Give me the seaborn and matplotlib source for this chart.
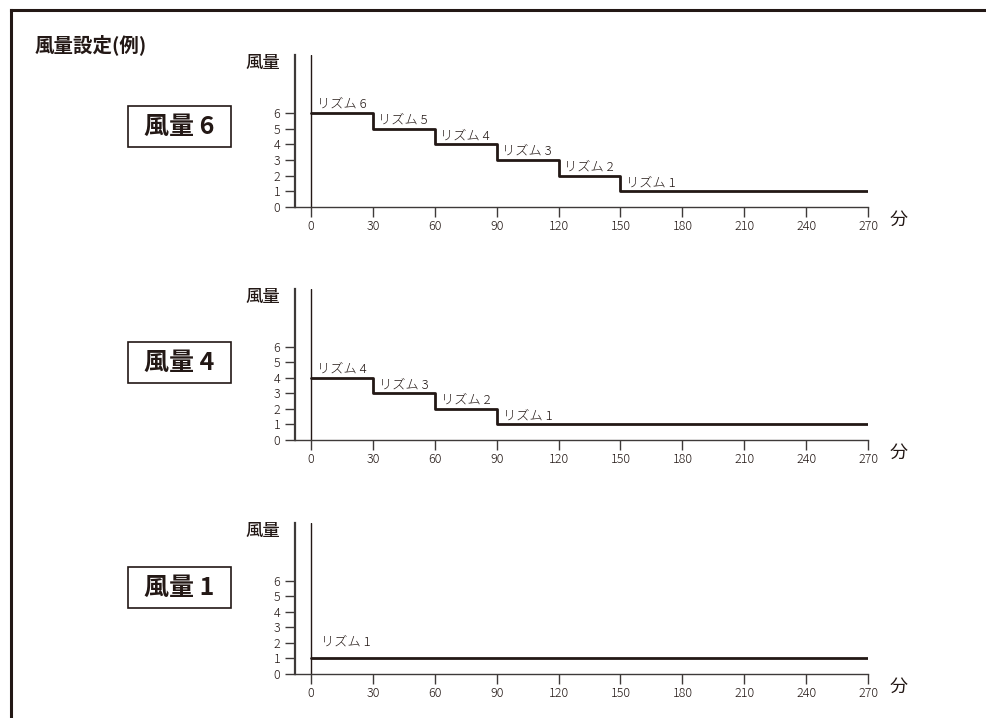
import matplotlib
matplotlib.use("Agg")
import matplotlib.pyplot as plt
import seaborn as sns
import pandas as pd
from matplotlib.patches import Rectangle
from matplotlib.lines import Line2D

# ---- data ----
title_text = "風量設定(例)"
panel_titles = ["風量 6", "風量 4", "風量 1"]
times_p1 = [0, 30, 60, 90, 120, 150, 270]
levels_p1 = [6, 5, 4, 3, 2, 1, 1]
labels_p1 = ["リズム 6", "リズム 5", "リズム 4", "リズム 3", "リズム 2", "リズム 1"]
times_p2 = [0, 30, 60, 90, 270]
levels_p2 = [4, 3, 2, 1, 1]
labels_p2 = ["リズム 4", "リズム 3", "リズム 2", "リズム 1"]
times_p3 = [0, 270]
levels_p3 = [1, 1]
labels_p3 = ["リズム 1"]
x_ticks = [0, 30, 60, 90, 120, 150, 180, 210, 240, 270]
y_ticks = [0, 1, 2, 3, 4, 5, 6]
y_label = "風量"
x_label = "分"

sns.set_style("white")
plt.rcParams["font.family"] = ["Noto Sans CJK JP", "DejaVu Sans"]

INK = "#231815"
AX = "#3e3a39"

W, H = 986, 718
fig = plt.figure(figsize=(W / 100, H / 100), dpi=100)
fig.patch.set_facecolor("white")

# outer frame (top and left visible; right/bottom run off the canvas)
fig.add_artist(Line2D([11 / W, 1.0], [1 - 10 / H, 1 - 10 / H], transform=fig.transFigure,
                      color=INK, lw=2.2, solid_capstyle="projecting"))
fig.add_artist(Line2D([11 / W, 11 / W], [0, 1 - 10 / H], transform=fig.transFigure,
                      color=INK, lw=2.2, solid_capstyle="projecting"))

fig.text(35 / W, 1 - 45 / H, title_text, fontsize=14, fontweight="bold",
         color=INK, ha="left", va="center")

panels = [
    (times_p1, levels_p1, labels_p1),
    (times_p2, levels_p2, labels_p2),
    (times_p3, levels_p3, labels_p3),
]
ax_px = [(55, 207), (289, 440), (523, 674)]   # top, bottom in pixels
box_y = [0.53, 0.51, 0.57]
label_raise = [1.5, 1.5, 7]
label_dx = [4.0, 4.5, 7.5]

left_px, right_px = 295, 868
for i, (times, levels, labels) in enumerate(panels):
    top, bot = ax_px[i]
    ax = fig.add_axes([left_px / W, 1 - bot / H, (right_px - left_px) / W, (bot - top) / H])
    df = pd.DataFrame({"t": times, "v": levels})
    sns.lineplot(data=df, x="t", y="v", ax=ax, drawstyle="steps-post",
                 color=INK, lw=2.0, zorder=3)
    ax.axvline(0, color=INK, lw=1.0, zorder=2)
    ax.set_xlim(-7.75, 270)
    ax.set_ylim(0, 9.7)
    ax.set_xticks(x_ticks)
    ax.set_yticks(y_ticks)
    ax.set_xlabel("")
    ax.set_ylabel("")
    for s in ["top", "right"]:
        ax.spines[s].set_visible(False)
    ax.spines["left"].set_color(AX)
    ax.spines["left"].set_linewidth(1.6)
    ax.spines["bottom"].set_color(AX)
    ax.spines["bottom"].set_linewidth(1.0)
    ax.tick_params(axis="x", direction="out", length=7, width=1.0, color=AX,
                   labelsize=9, labelcolor=INK, pad=2.5, bottom=True)
    ax.tick_params(axis="y", direction="out", length=7, width=1.0, color=AX,
                   labelsize=9, labelcolor=INK, pad=3.5, left=True)
    for lbl in ax.get_xticklabels() + ax.get_yticklabels():
        lbl.set_fontweight("light")
    ax.patch.set_alpha(0)

    for t, v, lab in zip(times[:-1], levels[:-1], labels):
        ax.annotate(lab, xy=(t, v), xytext=(label_dx[i], label_raise[i]),
                    textcoords="offset points", fontsize=9.5, color=INK,
                    fontweight="light", ha="left", va="bottom")

    ax.text(-0.056, 0.95, y_label, transform=ax.transAxes, fontsize=12.5,
            fontweight="medium", color=INK, ha="center", va="center")
    ax.text(1.054, -0.085, x_label, transform=ax.transAxes, fontsize=13,
            color=INK, ha="center", va="center")

    bx, bw, bh = -0.2914, 0.1798, 41 / (bot - top)
    ax.add_patch(Rectangle((bx, box_y[i] - bh / 2), bw, bh, transform=ax.transAxes,
                           fill=True, fc="white", ec=INK, lw=1.2, clip_on=False))
    ax.text(bx + bw / 2, box_y[i], panel_titles[i], transform=ax.transAxes,
            fontsize=18, fontweight="bold", color=INK, ha="center", va="center")

fig.savefig("out.png", dpi=100, facecolor="white")
